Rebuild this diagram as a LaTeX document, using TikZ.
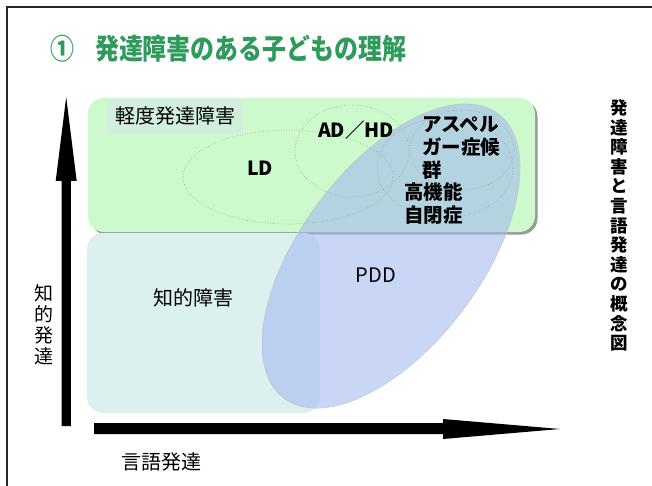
\documentclass[tikz,border=0pt]{standalone}
\usepackage{fontspec}
\setmainfont{Noto Sans CJK JP}
\usetikzlibrary{shapes.geometric}
\definecolor{titlegreen}{HTML}{2E9A5C}
\definecolor{mildfill}{HTML}{CCFACC}
\definecolor{labelfill}{HTML}{D2EEDC}
\definecolor{idfill}{HTML}{DCF0F0}
\definecolor{pddfill}{HTML}{A4B8F0}
\definecolor{shadowgray}{HTML}{9A9A9A}
\begin{document}
\begin{tikzpicture}[x=1pt,y=-1pt,
  region/.style={rectangle, rounded corners=16pt, inner sep=0pt, draw=none},
  subset/.style={ellipse, draw=gray!80, dotted, line width=0.6pt, inner sep=0pt},
  boldlabel/.style={inner sep=0pt, font=\fontsize{19.5}{23}\selectfont\bfseries, text=black},
  plainlabel/.style={inner sep=0pt, font=\fontsize{20}{21}\selectfont, text=black},
  axisshape/.style={fill=black, draw=none}]
\useasboundingbox (0,0) rectangle (652,486);

% frame
\draw[line width=2pt, black!85] (652,7) -- (7,7) -- (7,486);

% title
\node[anchor=west, text=titlegreen, font=\fontsize{28.5}{32}\selectfont\bfseries, inner sep=0pt, xscale=0.84]
  (title) at (50,48.5) {①\hspace{25pt}発達障害のある子どもの理解};

% mild developmental disorders region
\node[region, fill=shadowgray, minimum width=447pt, minimum height=134pt] (mildshadow) at (314,167.5) {};
\node[region, fill=mildfill, minimum width=447pt, minimum height=134pt] (mild) at (311.5,165) {};
\node[plainlabel, fill=labelfill, minimum width=136pt, minimum height=34pt] (mildlabel) at (175,116) {軽度発達障害};

% intellectual disability region
\node[region, fill=idfill, minimum width=233pt, minimum height=180pt] (idbox) at (203.5,323) {};

% PDD ellipse
\node[ellipse, inner sep=0pt, minimum width=356pt, minimum height=180pt, rotate=53,
  fill=pddfill, fill opacity=0.58, draw=gray!50, line width=0.4pt] (pdd) at (391,256) {};

% dotted subsets
\node[subset, minimum width=210pt, minimum height=94pt] (ldell) at (288,177) {};
\node[subset, minimum width=114pt, minimum height=92pt] (adhdell) at (352,151) {};
\node[subset, minimum width=104pt, minimum height=80pt] (aspell) at (462,150) {};
\node[subset, minimum width=136pt, minimum height=100pt] (hfaell) at (445,168) {};

% labels
\node[boldlabel] (ld) at (260,168) {LD};
\node[boldlabel] (adhd) at (356,130) {AD／HD};
\node[boldlabel, anchor=west, align=left] (asp) at (422,148) {アスペル\\ガー症候\\群};
\node[boldlabel, anchor=west, align=left] (hfa) at (404,203.5) {高機能\\自閉症};
\node[plainlabel] (pddlabel) at (376,275) {PDD};
\node[plainlabel] (idlabel) at (193,298) {知的障害};

% axes
\fill[axisshape] (61.5,426) -- (61.5,181) -- (55.7,181) -- (66.2,97) -- (76.7,181) -- (70.9,181) -- (70.9,426) -- cycle;
\fill[axisshape] (94,423) -- (443,423) -- (443,419) -- (560,429) -- (443,439) -- (443,434) -- (94,434) -- cycle;

\node[inner sep=0pt, align=center, font=\fontsize{19}{21}\selectfont] (yaxislabel) at (44,325) {知\\的\\発\\達};
\node[plainlabel] (xaxislabel) at (161,462) {言語発達};

% side caption
\node[inner sep=0pt, align=center, font=\fontsize{17.5}{19.6}\selectfont\bfseries] (caption) at (619,225.5)
  {発\\達\\障\\害\\と\\言\\語\\発\\達\\の\\概\\念\\図};
\end{tikzpicture}
\end{document}
